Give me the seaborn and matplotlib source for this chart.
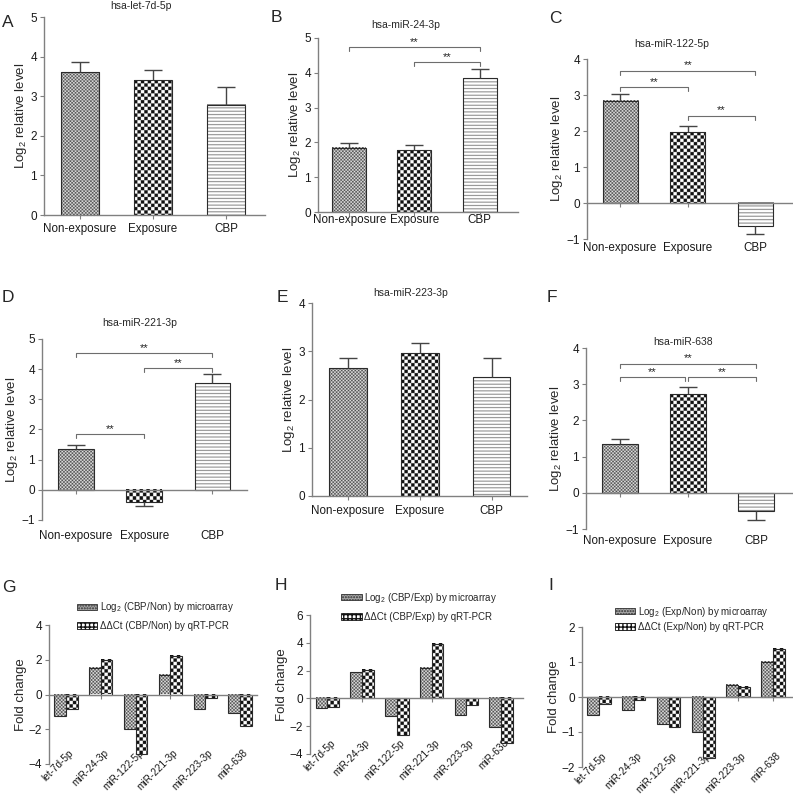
import numpy as np
import pandas as pd
import matplotlib
matplotlib.use("Agg")
import matplotlib.pyplot as plt
import matplotlib.colors as mcolors
import matplotlib.transforms as mtransforms
from matplotlib.patches import Patch
import seaborn as sns

# ---- data ----
groups = ["Non-exposure", "Exposure", "CBP"]

let7d_mean = [3.61, 3.40, 2.79]
let7d_sem = [0.26, 0.25, 0.43]
mir24_mean = [1.84, 1.77, 3.84]
mir24_sem = [0.14, 0.15, 0.27]
mir122_mean = [2.84, 1.97, -0.65]
mir122_sem = [0.19, 0.16, 0.22]
mir221_mean = [1.34, -0.40, 3.54]
mir221_sem = [0.13, 0.15, 0.30]
mir223_mean = [2.65, 2.96, 2.46]
mir223_sem = [0.20, 0.22, 0.41]
mir638_mean = [1.35, 2.72, -0.49]
mir638_sem = [0.13, 0.21, 0.25]

# significance brackets: (left group, right group, height)
mir24_sig = [(0, 2, 4.73), (1, 2, 4.31)]
mir122_sig = [(0, 2, 3.68), (0, 1, 3.22), (1, 2, 2.43)]
mir221_sig = [(0, 2, 4.53), (1, 2, 4.03), (0, 1, 1.86)]
mir638_sig = [(0, 2, 3.57), (0, 1, 3.20), (1, 2, 3.20)]

mirnas = ["let-7d-5p", "miR-24-3p", "miR-122-5p", "miR-221-3p", "miR-223-3p", "miR-638"]
cbp_non_array = [-1.23, 1.50, -2.01, 1.15, -0.84, -1.09]
cbp_non_pcr = [-0.84, 1.98, -3.45, 2.20, -0.19, -1.82]
cbp_exp_array = [-0.72, 1.87, -1.25, 2.18, -1.20, -2.09]
cbp_exp_pcr = [-0.65, 2.06, -2.64, 3.93, -0.48, -3.24]
exp_non_array = [-0.50, -0.38, -0.76, -1.01, 0.35, 1.01]
exp_non_pcr = [-0.21, -0.09, -0.85, -1.73, 0.30, 1.38]

# ---- style ----
sns.set_theme(style="ticks")
plt.rcParams["font.family"] = ["Liberation Sans", "DejaVu Sans"]
plt.rcParams["mathtext.fontset"] = "custom"
plt.rcParams["mathtext.rm"] = "Liberation Sans"
plt.rcParams["mathtext.it"] = "Liberation Sans:italic"
plt.rcParams["hatch.linewidth"] = 1.0

PX_W, PX_H = 793, 799
AXIS_GRAY = "#808080"
PATTERNS = {
    "dots": ("#4d4d4d", "#e4e4e4", 5),
    "checker": ("#111111", "#ffffff", 10),
    "stripes": ("#858585", "#ffffff", 10),
}

fig = plt.figure(figsize=(PX_W / 100, PX_H / 100), dpi=100)


def add_panel(left, top, right, bottom):
    return fig.add_axes([left / PX_W, 1 - bottom / PX_H,
                         (right - left) / PX_W, (bottom - top) / PX_H])


def fill_pattern(ax, patch, kind):
    bb = patch.get_bbox()
    x0, x1 = sorted([bb.x0, bb.x1])
    y0, y1 = sorted([bb.y0, bb.y1])
    (px0, py0), (px1, py1) = ax.transData.transform([(x0, y0), (x1, y1)])
    w = max(int(round(abs(px1 - px0) * 3)), 1)
    h = max(int(round(abs(py1 - py0) * 3)), 1)
    fg, bg, cell = PATTERNS[kind]
    yy, xx = np.mgrid[0:h, 0:w]
    if kind == "stripes":
        mask = (yy % cell) < 3
    else:
        mask = ((yy // cell) + (xx // cell)) % 2 == 0
    img = np.where(mask[..., None], mcolors.to_rgb(fg), mcolors.to_rgb(bg))
    ax.imshow(img, extent=(x0, x1, y0, y1), aspect="auto", zorder=1.5)
    patch.set_facecolor("none")
    patch.set_edgecolor("#2b2b2b")
    patch.set_linewidth(0.8)
    patch.set_zorder(1.6)


def style_axes(ax, xlim, ylim, yticks, labels, label_pad, rotate=False):
    ax.set_xlim(*xlim)
    ax.set_ylim(*ylim)
    ax.set_yticks(yticks)
    ax.set_xticks(range(len(labels)))
    for side in ["top", "right"]:
        ax.spines[side].set_visible(False)
    for side in ["left", "bottom"]:
        ax.spines[side].set_color(AXIS_GRAY)
        ax.spines[side].set_linewidth(1)
    ax.spines["bottom"].set_position(("data", 0))
    ax.tick_params(axis="x", labelbottom=False, length=3, width=0.8,
                   color=AXIS_GRAY, direction="out")
    ax.tick_params(axis="y", length=3, width=0.8, color=AXIS_GRAY, pad=2,
                   labelsize=8.5, labelcolor="#1a1a1a")
    ax.set_xlabel("")
    sec = ax.secondary_xaxis("bottom")
    sec.spines["bottom"].set_visible(False)
    sec.set_xticks(range(len(labels)), labels=labels)
    if rotate:
        sec.tick_params(length=0, pad=label_pad, labelsize=7.2, labelcolor="#1a1a1a")
        shift = mtransforms.ScaledTranslation(6 / 100, 0, fig.dpi_scale_trans)
        for lbl in sec.get_xticklabels():
            lbl.set_rotation(45)
            lbl.set_ha("right")
            lbl.set_va("center")
            lbl.set_rotation_mode("anchor")
            lbl.set_transform(lbl.get_transform() + shift)
    else:
        sec.tick_params(length=0, pad=label_pad, labelsize=8.4, labelcolor="#1a1a1a")


def bracket(ax, sigs):
    unit = ax.transData.transform((0, 1))[1] - ax.transData.transform((0, 0))[1]
    tick = 4 / unit
    for i, j, y in sigs:
        left, right = i, j
        # leave a small gap where two brackets meet at the same height
        for a, b, yy in sigs:
            if yy == y and a == j:
                right = j - 0.05
        ax.plot([left, left, right, right], [y - tick, y, y, y - tick],
                color="#6d6d6d", lw=0.8, zorder=3)
        ax.text((left + right) / 2, y, "**", ha="center", va="bottom",
                fontsize=8, color="#222222")


def bar_panel(rect, mean, sem, title, ylim, xlim, title_x, title_pad, label_pad, sigs=None):
    ax = add_panel(*rect)
    df = pd.DataFrame({"group": groups, "value": mean})
    sns.barplot(data=df, x="group", y="value", order=groups, errorbar=None,
                width=0.52, color="white", ax=ax)
    style_axes(ax, xlim, ylim, np.arange(ylim[0], ylim[1] + 1), groups, label_pad)
    for patch, kind in zip(ax.containers[0], ["dots", "checker", "stripes"]):
        fill_pattern(ax, patch, kind)
    mean = np.array(mean)
    tips = mean + np.sign(mean) * np.array(sem)
    x = np.arange(len(groups))
    ax.vlines(x, mean, tips, color="#444444", lw=1, zorder=2)
    ax.plot(x, tips, ls="none", marker="_", ms=13, mew=1, color="#444444", zorder=2)
    if sigs:
        bracket(ax, sigs)
    ax.set_ylabel("Log$_2$ relative level", fontsize=9.5, labelpad=1)
    ax.set_title(title, fontsize=7.5, x=title_x, pad=title_pad)
    ax.set_xlim(*xlim)
    ax.set_ylim(*ylim)
    return ax


def fold_panel(rect, array_vals, pcr_vals, legend_labels, ylim, yticks, xlim, leg_anchor, leg_spacing):
    ax = add_panel(*rect)
    df = pd.DataFrame({
        "miRNA": mirnas * 2,
        "method": ["array"] * len(mirnas) + ["pcr"] * len(mirnas),
        "value": list(array_vals) + list(pcr_vals),
    })
    sns.barplot(data=df, x="miRNA", y="value", hue="method", order=mirnas,
                hue_order=["array", "pcr"], palette=["white", "white"],
                width=0.67, errorbar=None, legend=False, ax=ax)
    style_axes(ax, xlim, ylim, yticks, mirnas, -9, rotate=True)
    for container, kind in zip(ax.containers, ["dots", "checker"]):
        for patch in container:
            fill_pattern(ax, patch, kind)
    ax.set_ylabel("Fold change", fontsize=9.5, labelpad=1)
    handles = [
        Patch(facecolor="#a5a5a5", edgecolor="#333333", hatch="......", linewidth=0.6),
        Patch(facecolor="white", edgecolor="#111111", hatch="++++", linewidth=0.6),
    ]
    ax.legend(handles=handles, labels=legend_labels, loc="lower left",
              bbox_to_anchor=leg_anchor, frameon=False, fontsize=7,
              handlelength=2.1, handleheight=0.65, handletextpad=0.3,
              labelspacing=leg_spacing, borderpad=0, borderaxespad=0)
    ax.set_xlim(*xlim)
    ax.set_ylim(*ylim)
    return ax


bar_panel((44, 17, 265, 215), let7d_mean, let7d_sem, "hsa-let-7d-5p",
          (0, 5), (-0.49, 2.53), 0.44, 5.8, 5.5)
bar_panel((318, 38, 518, 212), mir24_mean, mir24_sem, "hsa-miR-24-3p",
          (0, 5), (-0.48, 2.59), 0.44, 7.2, 1.5, mir24_sig)
bar_panel((587, 59, 792, 239), mir122_mean, mir122_sem, "hsa-miR-122-5p",
          (-1, 4), (-0.49, 2.54), 0.415, 8.6, 2.5, mir122_sig)
bar_panel((42, 339, 247, 520), mir221_mean, mir221_sem, "hsa-miR-221-3p",
          (-1, 5), (-0.5, 2.51), 0.475, 9.7, 7, mir221_sig)
bar_panel((312, 303, 527, 496), mir223_mean, mir223_sem, "hsa-miR-223-3p",
          (0, 4), (-0.5, 2.49), 0.46, 5, 6.5)
bar_panel((586, 348, 792, 529), mir638_mean, mir638_sem, "hsa-miR-638",
          (-1, 4), (-0.5, 2.53), 0.47, 2, 4.5, mir638_sig)

fold_panel((49, 625, 257, 764), cbp_non_array, cbp_non_pcr,
           ["Log$_2$ (CBP/Non) by microarray", "ΔΔCt (CBP/Non) by qRT-PCR"],
           (-4, 4), [-4, -2, 0, 2, 4], (-0.49, 5.49), (0.135, 0.957), 0.7)
fold_panel((310, 615, 523, 754), cbp_exp_array, cbp_exp_pcr,
           ["Log$_2$ (CBP/Exp) by microarray", "ΔΔCt (CBP/Exp) by qRT-PCR"],
           (-4, 6), [-4, -2, 0, 2, 4, 6], (-0.5, 5.63), (0.146, 0.95), 0.75)
fold_panel((582, 627, 792, 767), exp_non_array, exp_non_pcr,
           ["Log$_2$ (Exp/Non) by microarray", "ΔΔCt (Exp/Non) by qRT-PCR"],
           (-2, 2), [-2, -1, 0, 1, 2], (-0.49, 5.55), (0.157, 0.964), 0.35)

# panel letters (x, baseline y in pixels)
letters = [("A", 2, 27), ("B", 271, 22), ("C", 549, 23),
           ("D", 2, 302), ("E", 277, 302), ("F", 547, 302),
           ("G", 2, 592), ("H", 275, 590), ("I", 548, 590)]
for letter, lx, ly in letters:
    fig.text(lx / PX_W, 1 - ly / PX_H, letter, fontsize=12.5, ha="left", va="baseline")

fig.savefig("out.png", dpi=100)
